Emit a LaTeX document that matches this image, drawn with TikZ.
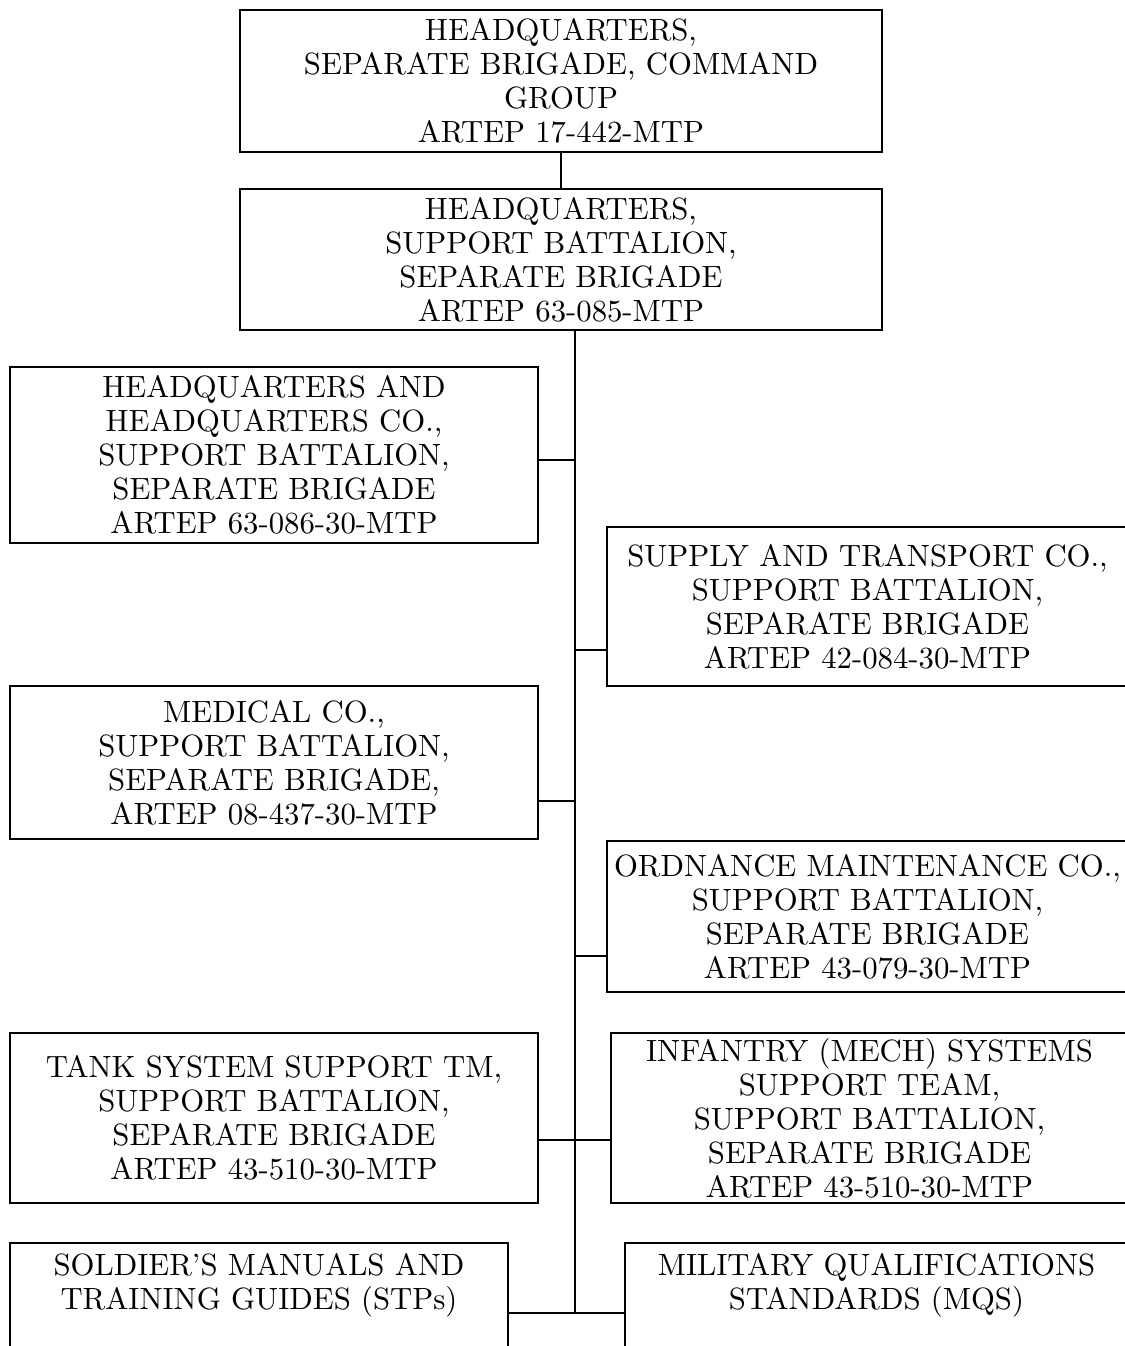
\documentclass[tikz,border=0pt]{standalone}
\usetikzlibrary{positioning,calc}
\font\boxrm="[lmroman10-regular.otf]:mapping=tex-text" at 17.5pt
\newcommand{\chartfont}{\fontsize{17.5}{19.4}\selectfont\boxrm}
\tikzset{
  unit/.style={draw,line width=1.1pt,align=center,inner sep=0pt,font=\chartfont},
  openunit/.style={align=center,inner xsep=0pt,inner ysep=0.2cm,font=\chartfont},
  link/.style={line width=1.1pt}
}
\begin{document}
\begin{tikzpicture}[x=0.02cm,y=-0.02cm]
\useasboundingbox (0,0) rectangle (1125,1346);
\clip (0,0) rectangle (1125,1346);
% brigade and battalion headquarters
\node[unit,minimum width=12.84cm,minimum height=2.84cm] (cmd) at (561,81) {HEADQUARTERS,\\ SEPARATE BRIGADE, COMMAND\\ GROUP\\ ARTEP 17-442-MTP};
\node[unit,minimum width=12.84cm,minimum height=2.82cm] (hqsb) at (561,259.5) {HEADQUARTERS,\\ SUPPORT BATTALION,\\ SEPARATE BRIGADE\\ ARTEP 63-085-MTP};
% companies, left side
\node[unit,minimum width=10.56cm,minimum height=3.52cm] (hhc) at (274,455) {HEADQUARTERS AND\\ HEADQUARTERS CO.,\\ SUPPORT BATTALION,\\ SEPARATE BRIGADE\\ ARTEP 63-086-30-MTP};
\node[unit,minimum width=10.56cm,minimum height=3.06cm] (med) at (274,762.5) {MEDICAL CO.,\\ SUPPORT BATTALION,\\ SEPARATE BRIGADE,\\ ARTEP 08-437-30-MTP};
\node[unit,minimum width=10.56cm,minimum height=3.4cm] (tank) at (274,1118) {TANK SYSTEM SUPPORT TM,\\ SUPPORT BATTALION,\\ SEPARATE BRIGADE\\ ARTEP 43-510-30-MTP};
% companies, right side
\node[unit,minimum width=10.42cm,minimum height=3.18cm] (st) at (867.5,606.5) {SUPPLY AND TRANSPORT CO.,\\ SUPPORT BATTALION,\\ SEPARATE BRIGADE\\ ARTEP 42-084-30-MTP};
\node[unit,minimum width=10.42cm,minimum height=3.02cm] (ord) at (867.5,916.5) {ORDNANCE MAINTENANCE CO.,\\ SUPPORT BATTALION,\\ SEPARATE BRIGADE\\ ARTEP 43-079-30-MTP};
\node[unit,minimum width=10.34cm,minimum height=3.4cm] (inf) at (869.5,1118) {INFANTRY (MECH) SYSTEMS\\ SUPPORT TEAM,\\ SUPPORT BATTALION,\\ SEPARATE BRIGADE\\ ARTEP 43-510-30-MTP};
% manuals, boxes run off the page
\node[openunit,minimum width=9.96cm,anchor=north] (stp) at (259,1243) {SOLDIER’S MANUALS AND\\ TRAINING GUIDES (STPs)};
\node[openunit,minimum width=10.06cm,anchor=north] (mqs) at (876.5,1243) {MILITARY QUALIFICATIONS\\ STANDARDS (MQS)};
\coordinate (floor) at (0,1370);
\draw[link] (stp.north west |- floor) -- (stp.north west) -- (stp.north east) -- (stp.north east |- floor);
\draw[link] (mqs.north west |- floor) -- (mqs.north west) -- (mqs.north east) -- (mqs.north east |- floor);
% connectors
\coordinate (spine) at (575,330);
\coordinate (base) at (575,1313);
\draw[link] (cmd) -- (hqsb);
\draw[link] (hqsb.south -| spine) -- (base);
\foreach \n/\f in {hhc/0.47,med/0.25,tank/0.37} {
  \coordinate (j) at ($(\n.south east)!\f!(\n.north east)$);
  \draw[link] (j) -- (j -| spine);
}
\foreach \n/\f in {st/0.23,ord/0.24,inf/0.37} {
  \coordinate (j) at ($(\n.south west)!\f!(\n.north west)$);
  \draw[link] (j) -- (j -| spine);
}
\draw[link] (stp.north east |- base) -- (mqs.north west |- base);
\end{tikzpicture}
\end{document}
